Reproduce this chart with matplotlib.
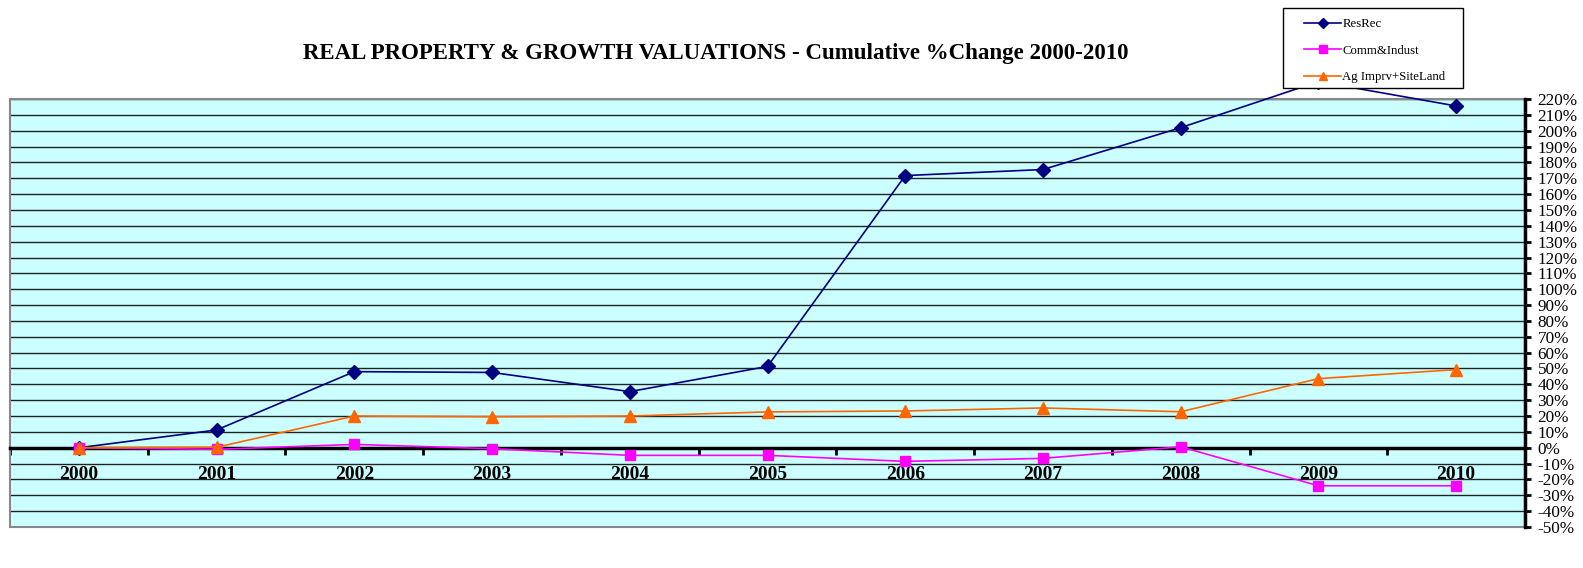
import matplotlib
matplotlib.use("Agg")
import matplotlib.pyplot as plt
from matplotlib.patches import Rectangle
import numpy as np

years = ["2000", "2001", "2002", "2003", "2004", "2005", "2006", "2007", "2008", "2009", "2010"]
res_rec = [0.0, 11.2, 48.0, 47.5, 35.4, 51.3, 171.7, 175.5, 201.9, 231.0, 215.6]
comm_indust = [0.0, -1.0, 2.1, -0.6, -4.8, -4.8, -8.6, -6.7, 0.6, -24.0, -24.0]
ag_imprv = [0.0, 0.3, 20.0, 19.6, 20.0, 22.6, 23.2, 25.1, 22.7, 43.6, 49.3]
y_ticks = list(range(-50, 221, 10))

W, H = 1583, 568
fig = plt.figure(figsize=(W / 100, H / 100), dpi=100)
plt.rcParams['font.family'] = ['Liberation Serif', 'DejaVu Serif']

ax = fig.add_axes([10 / W, 1 - 527 / H, (1525 - 10) / W, (527 - 99) / H])
ax.set_facecolor('#CCFFFF')
x = np.arange(len(years))
ax.set_xlim(-0.5, len(years) - 0.5)
ax.set_ylim(-50, 220)

for v in y_ticks:
    ax.axhline(v, color='#222222', lw=1.0, zorder=1)

ax.plot(x, res_rec, color='#000080', marker='D', markersize=7, lw=1.2, clip_on=False, zorder=4, label='ResRec')
ax.plot(x, comm_indust, color='#FF00FF', marker='s', markersize=7.5, lw=1.2, clip_on=False, zorder=4, label='Comm&Indust')
ax.plot(x, ag_imprv, color='#FF6600', marker='^', markersize=8, lw=1.2, clip_on=False, zorder=4, label='Ag Imprv+SiteLand')

# spines
for s in ['top', 'left']:
    ax.spines[s].set_visible(False)
ax.spines['bottom'].set_position(('data', 0))
ax.spines['bottom'].set_linewidth(2.5)
ax.spines['bottom'].set_color('black')
ax.spines['bottom'].set_zorder(3)
ax.spines['right'].set_linewidth(2.5)
ax.spines['right'].set_color('black')
ax.add_patch(Rectangle((0, 0), 1, 1, transform=ax.transAxes, fill=False,
                       edgecolor='#888888', lw=1.5, clip_on=False, zorder=2))

ax.yaxis.tick_right()
ax.set_yticks(y_ticks)
ax.set_yticklabels([f"{v}%" for v in y_ticks], fontsize=12.3)
ax.tick_params(axis='y', direction='out', length=4, width=2, pad=5)

ax.set_xticks(x)
ax.set_xticklabels(years, fontsize=14, fontweight='bold')
ax.tick_params(axis='x', which='major', length=0, pad=13)
ax.set_xticks(np.arange(-0.5, len(years)), minor=True)
ax.tick_params(axis='x', which='minor', direction='out', length=5, width=2)

fig.text(716 / W, 1 - 53 / H, "REAL PROPERTY & GROWTH VALUATIONS - Cumulative %Change 2000-2010",
         ha='center', va='center', fontsize=16.5, fontweight='bold')

# legend frame
frame = Rectangle((1283 / W, 1 - 88 / H), 180 / W, 80 / H, transform=fig.transFigure,
                  facecolor='white', edgecolor='black', lw=1.0, zorder=9)
fig.patches.append(frame)
leg = fig.legend(loc='upper left', bbox_to_anchor=(1304 / W, 1 - 18 / H),
                 fontsize=9.2, frameon=False, markerscale=0.8,
                 handlelength=2.9, handletextpad=0.1, labelspacing=1.15, borderpad=0.0,
                 borderaxespad=0)
leg.set_zorder(10)

fig.savefig('out.png', dpi=100)
